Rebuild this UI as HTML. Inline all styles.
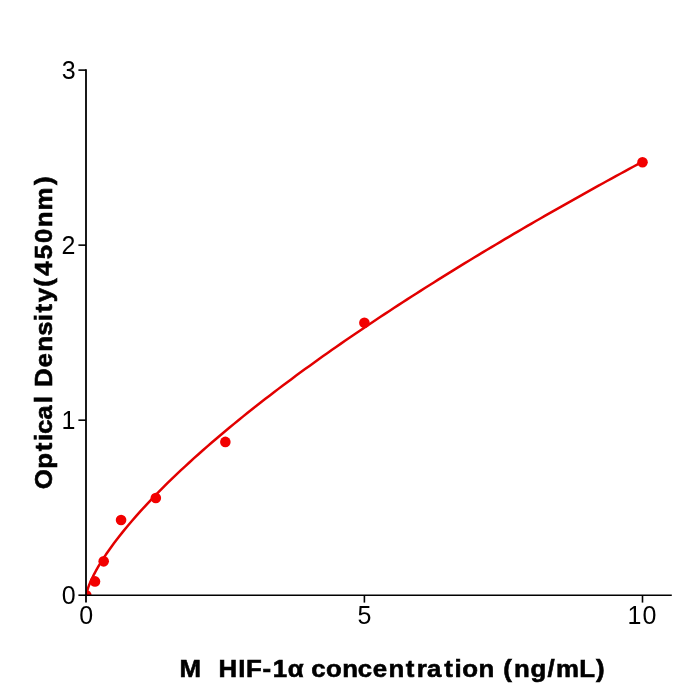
<!DOCTYPE html>
<html><head><meta charset="utf-8"><style>
html,body{margin:0;padding:0;background:#fff;}
svg{display:block;will-change:transform;}
text{font-family:"Liberation Sans",sans-serif;fill:#000;}
</style></head><body>
<svg width="700" height="700" viewBox="0 0 700 700">
<rect width="700" height="700" fill="#fff"/>
<defs><clipPath id="ax"><rect x="86.0" y="60" width="600" height="535.2"/></clipPath></defs>
<g clip-path="url(#ax)">
<path d="M86.30,595.20 L87.01,591.44 L87.73,589.02 L88.44,586.92 L89.15,585.02 L89.87,583.25 L90.58,581.58 L91.29,579.99 L92.00,578.46 L92.72,576.98 L93.43,575.55 L94.14,574.15 L94.86,572.80 L95.57,571.47 L96.28,570.18 L97.00,568.91 L97.71,567.66 L98.42,566.44 L99.14,565.23 L99.85,564.05 L100.56,562.88 L101.27,561.73 L101.99,560.60 L102.70,559.47 L103.41,558.37 L104.13,557.27 L104.84,556.19 L105.55,555.12 L106.27,554.07 L106.98,553.02 L107.69,551.98 L108.41,550.95 L109.12,549.94 L109.83,548.93 L110.54,547.93 L111.26,546.94 L111.97,545.95 L112.68,544.98 L113.40,544.01 L114.11,543.05 L118.55,537.22 L122.99,531.62 L127.43,526.21 L131.87,520.96 L136.31,515.87 L140.75,510.90 L145.19,506.05 L149.63,501.31 L154.07,496.67 L158.51,492.11 L162.95,487.63 L167.39,483.23 L171.83,478.91 L176.27,474.64 L180.71,470.44 L185.15,466.30 L189.59,462.22 L194.03,458.18 L198.47,454.20 L202.92,450.26 L207.36,446.37 L211.80,442.52 L216.24,438.71 L220.68,434.94 L225.12,431.20 L229.56,427.51 L234.00,423.84 L238.44,420.22 L242.88,416.62 L247.32,413.05 L251.76,409.52 L256.20,406.01 L260.64,402.53 L265.08,399.08 L269.52,395.66 L273.96,392.26 L278.40,388.88 L282.84,385.53 L287.28,382.20 L291.72,378.90 L296.16,375.61 L300.60,372.35 L305.04,369.11 L309.48,365.89 L313.92,362.69 L318.36,359.51 L322.80,356.35 L327.24,353.21 L331.68,350.08 L336.12,346.98 L340.56,343.89 L345.00,340.81 L349.44,337.76 L353.88,334.72 L358.32,331.69 L362.76,328.68 L367.20,325.69 L371.64,322.71 L376.08,319.75 L380.53,316.80 L384.97,313.86 L389.41,310.94 L393.85,308.04 L398.29,305.14 L402.73,302.26 L407.17,299.39 L411.61,296.54 L416.05,293.69 L420.49,290.86 L424.93,288.05 L429.37,285.24 L433.81,282.44 L438.25,279.66 L442.69,276.89 L447.13,274.13 L451.57,271.38 L456.01,268.64 L460.45,265.91 L464.89,263.19 L469.33,260.49 L473.77,257.79 L478.21,255.10 L482.65,252.43 L487.09,249.76 L491.53,247.10 L495.97,244.45 L500.41,241.81 L504.85,239.19 L509.29,236.57 L513.73,233.95 L518.17,231.35 L522.61,228.76 L527.05,226.17 L531.49,223.60 L535.93,221.03 L540.37,218.47 L544.81,215.92 L549.25,213.38 L553.69,210.84 L558.14,208.32 L562.58,205.80 L567.02,203.29 L571.46,200.79 L575.90,198.29 L580.34,195.80 L584.78,193.32 L589.22,190.85 L593.66,188.38 L598.10,185.93 L602.54,183.48 L606.98,181.03 L611.42,178.59 L615.86,176.16 L620.30,173.74 L624.74,171.33 L629.18,168.92 L633.62,166.51 L638.06,164.12 L642.50,161.73" fill="none" stroke="#e20000" stroke-width="2.5" stroke-linejoin="round"/>
<g fill="#f20000">
<circle cx="86.30" cy="595.20" r="5.3"/>
<circle cx="94.99" cy="581.41" r="5.3"/>
<circle cx="103.68" cy="561.35" r="5.3"/>
<circle cx="121.06" cy="520.01" r="5.3"/>
<circle cx="155.82" cy="498.01" r="5.3"/>
<circle cx="225.35" cy="441.91" r="5.3"/>
<circle cx="364.40" cy="322.70" r="5.3"/>
<circle cx="642.50" cy="162.30" r="5.3"/>
</g>
</g>
<g stroke="#000" stroke-width="1.6" fill="none">
<line x1="86.0" y1="69.3" x2="86.0" y2="596.0" stroke-width="1.8"/>
<line x1="85.1" y1="595.2" x2="671.8" y2="595.2"/>
<line x1="78.4" y1="595.2" x2="86.0" y2="595.2"/>
<line x1="78.4" y1="420.1700000000001" x2="86.0" y2="420.1700000000001"/>
<line x1="78.4" y1="245.14000000000004" x2="86.0" y2="245.14000000000004"/>
<line x1="78.4" y1="70.11000000000001" x2="86.0" y2="70.11000000000001"/>
<line x1="86.0" y1="595.2" x2="86.0" y2="602.6" stroke-width="1.8"/>
<line x1="364.4" y1="595.2" x2="364.4" y2="602.6"/>
<line x1="642.4999999999999" y1="595.2" x2="642.4999999999999" y2="602.6"/>
</g>
<g font-size="25.0">
<text x="61.73" y="604.2">0</text>
<text x="61.61" y="429.1700000000001">1</text>
<text x="61.42" y="254.14000000000004">2</text>
<text x="61.77" y="79.11000000000001">3</text>
<text x="79.25" y="623.6">0</text>
<text x="357.47" y="623.6">5</text>
<text x="627.39 642.54" y="623.6">10</text>
</g>
<text transform="scale(1.05,1)" x="170.85 192.59 200.31 208.00 226.87 234.20 250.10 259.72 274.01 289.92 296.55 310.46 326.00 340.75 355.11 370.00 386.50 396.96 406.76 423.02 432.93 440.25 455.78 471.62 479.34 489.45 505.16 521.36 529.45 551.78 567.61" y="677.2" font-size="24.6" font-weight="bold" stroke="#000" stroke-width="0.6" xml:space="preserve" style="white-space:pre">M  HIF-1α concentration (ng/mL)</text>
<text transform="translate(51.9,488) rotate(-90) scale(1.05,1)" x="-1.20 18.42 34.89 44.83 51.43 65.10 80.71 88.39 96.18 114.77 129.72 145.05 158.81 167.16 177.01 191.67 202.17 217.84 233.32 248.32 264.41 288.49" y="0" font-size="24.6" font-weight="bold" stroke="#000" stroke-width="0.6">Optical Density(450nm)</text>
</svg>
</body></html>
